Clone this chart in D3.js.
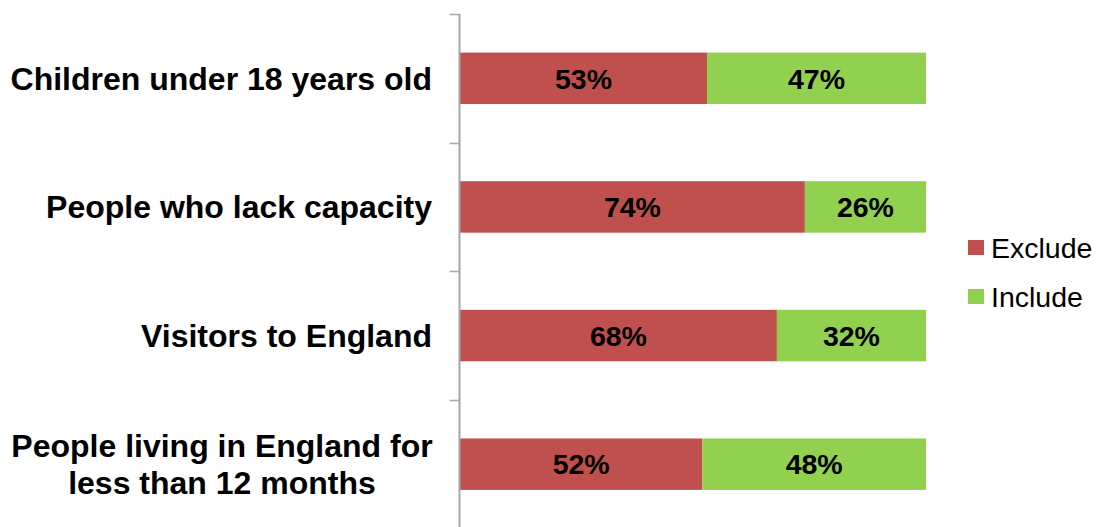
<!DOCTYPE html>
<html>
<head>
<meta charset="utf-8">
<script src="https://cdn.jsdelivr.net/npm/d3@7"></script>
<style>
    body { margin: 0; background: #fff; }
    .cat { font-family: "Liberation Sans", Arial, sans-serif; font-weight: bold; font-size: 32px; fill: #000; }
    .val { font-family: "Liberation Sans", Arial, sans-serif; font-weight: bold; font-size: 28.5px; fill: #000; }
    .leg { font-family: "Liberation Sans", Arial, sans-serif; font-size: 28.5px; fill: #000; }
</style>
</head>
<body>
<div id="chart"></div>
<script>
const categories = [
    ["Children under 18 years old"],
    ["People who lack capacity"],
    ["Visitors to England"],
    ["People living in England for", "less than 12 months"]
]
const exclude = [53, 74, 68, 52]
const include = [47, 26, 32, 48]
const seriesNames = ["Exclude", "Include"]
const colors = ["#C0504D", "#92D050"]

const W = 1097, H = 527
const svg = d3.select("#chart").append("svg")
    .attr("width", W)
    .attr("height", H)

const data = categories.map((c, i) => ({ key: i, label: c, Exclude: exclude[i], Include: include[i] }))

const x = d3.scaleLinear().domain([0, 100]).range([460, 926])
const y = d3.scaleBand()
    .domain(data.map(d => d.key))
    .range([14, 528.5])
    .paddingInner(0.6)
    .paddingOuter(0.3)

const stack = d3.stack().keys(seriesNames)(data)

// bars
svg.selectAll("g.series")
    .data(stack)
    .enter().append("g")
    .attr("class", "series")
    .attr("fill", (d, i) => colors[i])
    .selectAll("rect")
    .data(d => d)
    .enter().append("rect")
    .attr("x", d => x(d[0]))
    .attr("y", d => y(d.data.key))
    .attr("width", d => x(d[1]) - x(d[0]))
    .attr("height", y.bandwidth())

// value labels
stack.forEach(s => {
    svg.selectAll(null)
        .data(s)
        .enter().append("text")
        .attr("class", "val")
        .attr("x", d => (x(d[0]) + x(d[1])) / 2)
        .attr("y", d => y(d.data.key) + y.bandwidth() / 2)
        .attr("dy", "0.36em")
        .attr("text-anchor", "middle")
        .text(d => (d[1] - d[0]) + "%")
})

// axis with ticks on band boundaries
const axisX = 459.5
svg.append("line")
    .attr("x1", axisX).attr("x2", axisX)
    .attr("y1", 14).attr("y2", H)
    .attr("stroke", "#A6A6A6").attr("stroke-width", 2)
const step = y.step()
const bounds = d3.range(data.length + 1).map(i => 14 + i * step)
svg.selectAll("line.tick")
    .data(bounds)
    .enter().append("line")
    .attr("class", "tick")
    .attr("x1", axisX - 10).attr("x2", axisX)
    .attr("y1", d => Math.round(d) + 0.5).attr("y2", d => Math.round(d) + 0.5)
    .attr("stroke", "#A6A6A6").attr("stroke-width", 1.5)

// category labels
data.forEach(d => {
    const cy = y(d.key) + y.bandwidth() / 2
    const lh = 37
    const t = svg.append("text").attr("class", "cat")
    if (d.label.length === 1) {
        t.attr("x", 432).attr("y", cy).attr("dy", "0.36em")
            .attr("text-anchor", "end").text(d.label[0])
    } else {
        t.attr("text-anchor", "middle")
        d.label.forEach((line, j) => {
            t.append("tspan")
                .attr("x", 222)
                .attr("y", cy + (j - (d.label.length - 1) / 2) * lh)
                .attr("dy", "0.36em")
                .text(line)
        })
    }
})

// legend
const legend = svg.append("g")
seriesNames.forEach((n, i) => {
    legend.append("rect")
        .attr("x", 968).attr("y", 240 + i * 49)
        .attr("width", 16).attr("height", 15)
        .attr("fill", colors[i])
    legend.append("text")
        .attr("class", "leg")
        .attr("x", 991).attr("y", 248 + i * 49)
        .attr("dy", "0.36em")
        .text(n)
})
</script>
</body>
</html>
